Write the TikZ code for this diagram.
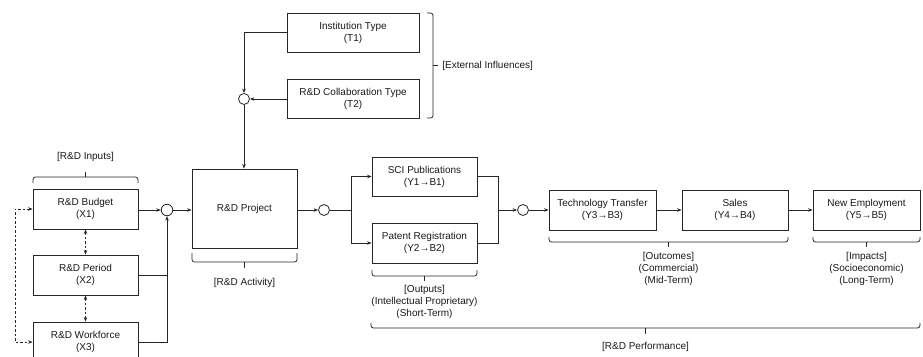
\documentclass[tikz,border=0pt]{standalone}
\usepackage{fontspec}
\setmainfont{Liberation Sans}
\usetikzlibrary{arrows.meta,calc}
\begin{document}
\begin{tikzpicture}[x=1bp,y=-1bp,
  font=\fontsize{10bp}{12bp}\selectfont,
  line width=0.8bp,
  every node/.style={text=black!90},
  box/.style={draw=black!85,rectangle,inner sep=0pt,minimum width=105bp,minimum height=40bp,align=center},
  sumc/.style={draw=black!85,circle,inner sep=0pt,minimum size=11.5bp},
  arr/.style={-{Stealth[length=4.5bp,width=3.5bp]},draw=black!85},
  darr/.style={{Stealth[length=4.5bp,width=3.5bp]}-{Stealth[length=4.5bp,width=3.5bp]},draw=black!85,dash pattern=on 2.5bp off 2bp},
  ln/.style={draw=black!85},
  brk/.style={draw=black!85,rounded corners=2.5bp},
  lbl/.style={align=center,inner sep=0pt}
]
\useasboundingbox (0,0) rectangle (923,356);
\clip (0,0) rectangle (923,356);

% Inputs
\node[box] (budget) at (85.5,209) {R\&D Budget\\(X1)};
\node[box] (period) at (85.5,275) {R\&D Period\\(X2)};
\node[box] (work) at (85.5,342) {R\&D Workforce\\(X3)};
\node[sumc] (c1) at (167,210) {};

% Activity
\node[box,minimum height=79bp] (proj) at (244.5,208.5) {R\&D Project};
\node[sumc,minimum size=11bp] (c2) at (244,99) {};
\node[box,minimum width=132bp,minimum height=39bp] (inst) at (353,32.5) {Institution Type\\(T1)};
\node[box,minimum width=132bp,minimum height=39bp] (coll) at (353,98.5) {R\&D Collaboration Type\\(T2)};

% Outputs
\node[sumc,minimum size=11bp] (c3) at (324,210) {};
\coordinate (sp) at (351,210);
\node[box,minimum height=39bp] (sci) at (424.5,176.5) {SCI Publications\\(Y1→B1)};
\node[box] (pat) at (424.5,243) {Patent Registration\\(Y2→B2)};
\coordinate (jn) at (498,210);
\node[sumc,minimum size=11bp] (c4) at (523,210) {};

% Outcomes / Impacts
\node[box,minimum width=107bp] (tech) at (602.5,210) {Technology Transfer\\(Y3→B3)};
\node[box,minimum width=106bp] (sales) at (735,210) {Sales\\(Y4→B4)};
\node[box,minimum width=107bp] (emp) at (866.5,210) {New Employment\\(Y5→B5)};

% connectors
\draw[arr] (budget.east |- c1) -- (c1.west);
\draw[ln] (period.east) -- (period.east -| c1);
\draw[arr] (work.east) -| (c1.south);
\draw[arr] (c1.east) -- (c1 -| proj.west);
\draw[arr] (inst.west) -| (c2.north);
\draw[arr] (coll.west |- c2) -- (c2.east);
\draw[arr] (c2.south) -- (c2.south |- proj.north);
\draw[arr] (proj.east |- c3) -- (c3.west);
\draw[ln] (c3.east) -- (sp);
\draw[arr] (sp) |- (sci.west);
\draw[arr] (sp) |- (pat.west);
\draw[ln] (sci.east) -| (jn);
\draw[ln] (pat.east) -| (jn);
\draw[arr] (jn) -- (c4.west);
\draw[arr] (c4.east) -- (c4 -| tech.west);
\draw[arr] (tech.east) -- (sales.west);
\draw[arr] (sales.east) -- (emp.west);

% dashed links
\draw[darr] (budget.south) -- (period.north);
\draw[darr] (period.south) -- (work.north);
\draw[darr] (budget.west) -- ++(-17.5,0) |- (work.west);

% brackets
\draw[brk] (33,183) -- (33,177) -- (138,177) -- (138,183);
\draw[ln] (85.5,177) -- (85.5,172);
\node[lbl] (linputs) at (85.5,157) {[R\&D Inputs]};

\draw[brk] (192,253) -- (192,262) -- (297,262) -- (297,253);
\draw[ln] (244.5,262) -- (244.5,268);
\node[lbl] (lact) at (244.5,283) {[R\&D Activity]};

\draw[brk] (372,270) -- (372,276) -- (477,276) -- (477,270);
\draw[ln] (424.5,276) -- (424.5,281);
\node[lbl] (lout) at (424.5,302) {[Outputs]\\(Intellectual Proprietary)\\(Short-Term)};

\draw[brk] (549,237) -- (549,242) -- (788,242) -- (788,237);
\draw[ln] (668.5,242) -- (668.5,247);
\node[lbl] (lcom) at (668.5,269) {[Outcomes]\\(Commercial)\\(Mid-Term)};

\draw[brk] (813,237) -- (813,242) -- (920,242) -- (920,237);
\draw[ln] (866.5,242) -- (866.5,247);
\node[lbl] (limp) at (866.5,269) {[Impacts]\\(Socioeconomic)\\(Long-Term)};

\draw[brk] (371,323) -- (371,328) -- (920,328) -- (920,323);
\draw[ln] (645.5,328) -- (645.5,334);
\node[lbl] (lperf) at (645.5,347) {[R\&D Performance]};

\draw[brk] (427,13) -- (433,13) -- (433,118) -- (427,118);
\draw[ln] (433,65.5) -- (438,65.5);
\node[lbl,anchor=west] (lext) at (442,66) {[External Influences]};
\end{tikzpicture}
\end{document}
